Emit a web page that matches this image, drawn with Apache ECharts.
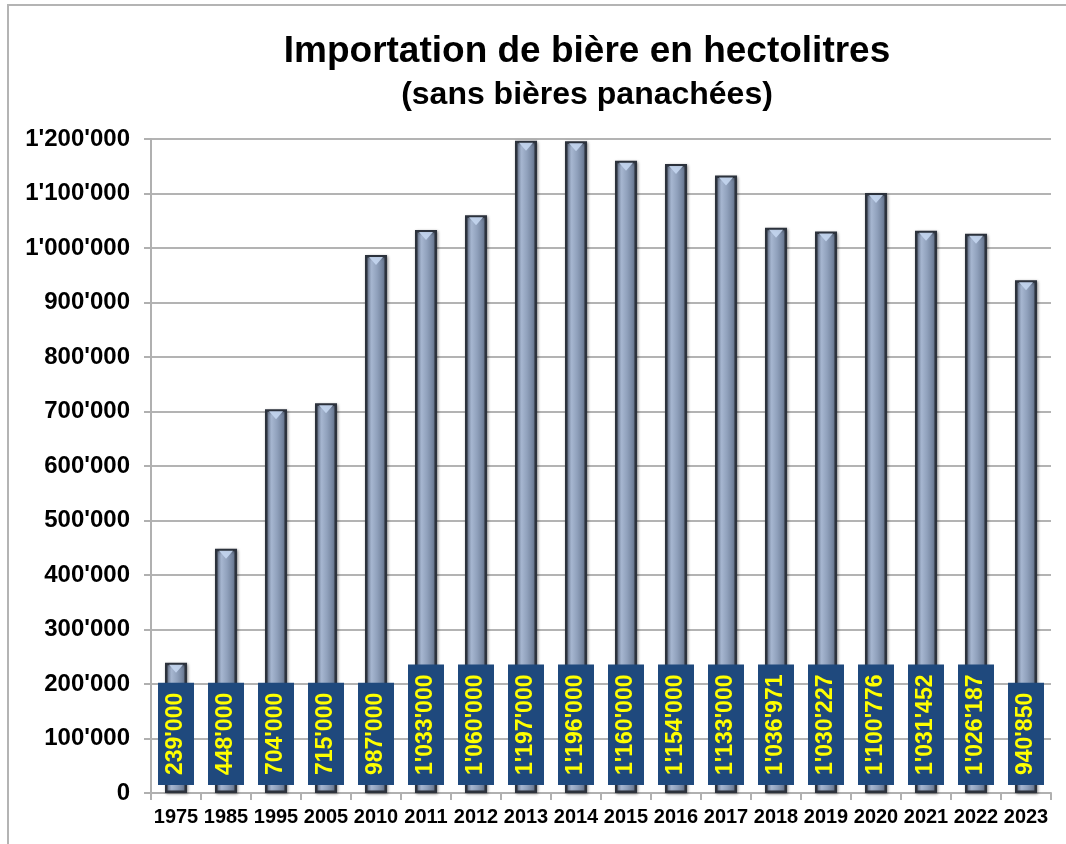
<!DOCTYPE html>
<html>
<head>
<meta charset="utf-8">
<script src="https://cdn.jsdelivr.net/npm/echarts@6/dist/echarts.min.js"></script>
<style>
html,body{margin:0;padding:0;background:#fff;}
#chart{width:1066px;height:844px;}
</style>
</head>
<body>
<div id="chart"></div>
<script>
var years = ['1975','1985','1995','2005','2010','2011','2012','2013','2014','2015','2016','2017','2018','2019','2020','2021','2022','2023'];
var imports = [239000,448000,704000,715000,987000,1033000,1060000,1197000,1196000,1160000,1154000,1133000,1036971,1030227,1100776,1031452,1026187,940850];
var titleText = 'Importation de bière en hectolitres';
var subtitleText = '(sans bières panachées)';
var yMin = 0, yMax = 1200000, yStep = 100000;

function fmt(v){
  return String(Math.round(v)).replace(/\B(?=(\d{3})+(?!\d))/g, "'");
}

var chart = echarts.init(document.getElementById('chart'));
var FONT = 'Liberation Sans, Arial, sans-serif';
chart.setOption({
  backgroundColor: '#ffffff',
  animation: false,
  graphic: [
    {type:'rect', shape:{x:8, y:5, width:1100, height:900}, style:{fill:'none', stroke:'#b4b4b4', lineWidth:2}, z:-1},
    {type:'text', x:587, y:52, style:{text:titleText, font:'bold 37px ' + FONT, fill:'#000', textAlign:'center', textVerticalAlign:'middle'}},
    {type:'text', x:587, y:95, style:{text:subtitleText, font:'bold 32px ' + FONT, fill:'#000', textAlign:'center', textVerticalAlign:'middle'}}
  ],
  grid: {left:151, right:15, top:139, bottom:51, containLabel:false},
  xAxis: {
    type:'category',
    data: years,
    axisLine:{show:true, lineStyle:{color:'#b0b0b0', width:2}},
    axisTick:{show:true, length:7, lineStyle:{color:'#b0b0b0', width:2}},
    axisLabel:{color:'#000', fontFamily:FONT, fontWeight:'bold', fontSize:20, margin:14, interval:0}
  },
  yAxis: {
    type:'value',
    min:yMin, max:yMax, interval:yStep,
    axisLine:{show:true, lineStyle:{color:'#b0b0b0', width:2}},
    axisTick:{show:true, length:7, lineStyle:{color:'#b0b0b0', width:2}},
    splitLine:{show:true, lineStyle:{color:'#9a9a9a', width:1.5}},
    axisLabel:{color:'#000', fontFamily:FONT, fontWeight:'bold', fontSize:24, margin:21, formatter:function(v){return fmt(v);}}
  },
  series: [{
    type:'bar',
    data: imports,
    barWidth: 22,
    itemStyle:{
      color: new echarts.graphic.LinearGradient(0,0,1,0,[
        {offset:0, color:'#7383a0'},
        {offset:0.3, color:'#a6b6d0'},
        {offset:0.55, color:'#90a1bc'},
        {offset:1, color:'#5e6d86'}
      ]),
      borderColor:'#2c323c',
      borderWidth:2.5,
      shadowColor:'rgba(0,0,0,0.35)',
      shadowBlur:3,
      shadowOffsetX:1,
      shadowOffsetY:1
    },
    label:{
      show:true,
      position:'insideBottom',
      distance:8,
      rotate:90,
      align:'left',
      verticalAlign:'middle',
      formatter:function(p){return fmt(p.value);},
      color:'#ffff00',
      fontFamily:FONT,
      fontWeight:'bold',
      fontSize:23,
      lineHeight:24,
      backgroundColor:'#1f497d',
      padding:[6,10,6,10]
    },
    z:2
  },{
    type:'scatter',
    data: imports,
    symbol:'triangle',
    symbolRotate:180,
    symbolSize:[14,8],
    symbolOffset:[0,6],
    itemStyle:{color:'#c4d6f0', opacity:0.9},
    silent:true,
    z:3
  }]
});
</script>
</body>
</html>
